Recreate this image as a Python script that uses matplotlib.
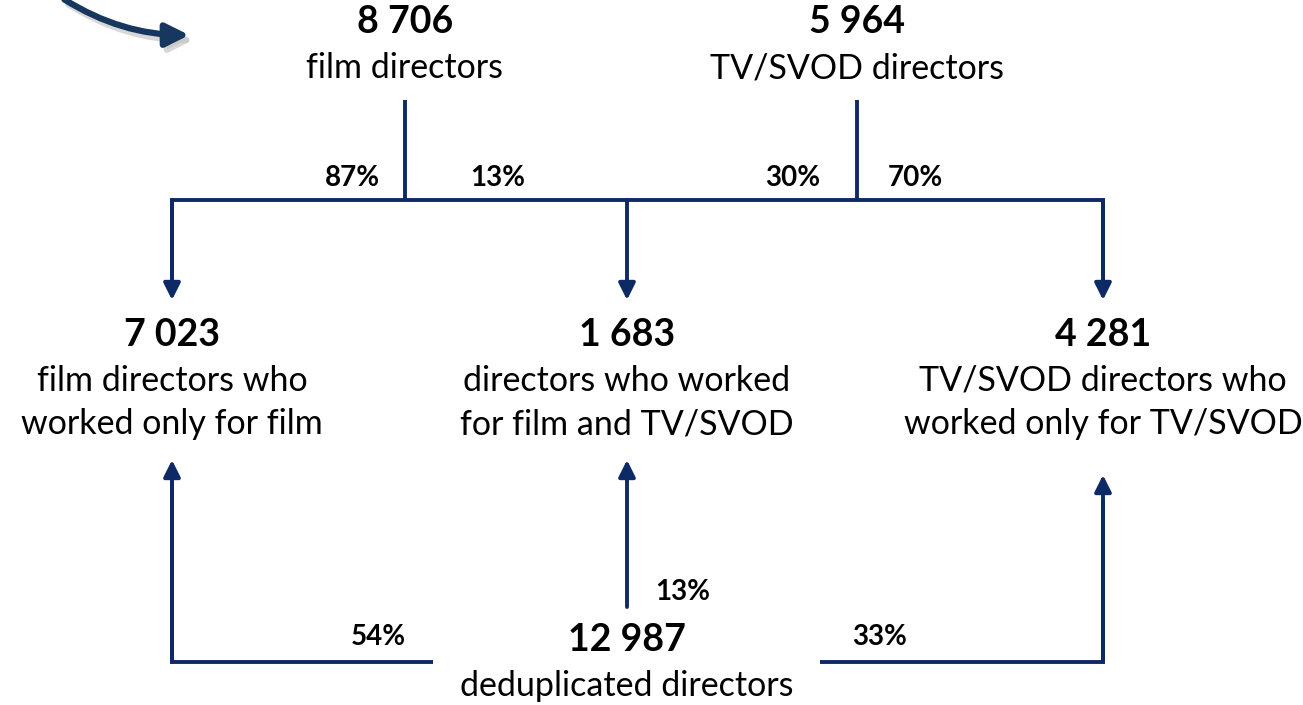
import matplotlib
matplotlib.use("Agg")
import matplotlib.pyplot as plt
from matplotlib.patches import FancyArrowPatch

# ---- data ----
top_counts = ["8 706", "5 964"]
top_labels = ["film directors", "TV/SVOD directors"]
mid_counts = ["7 023", "1 683", "4 281"]
mid_labels = [["film directors who", "worked only for film"],
              ["directors who worked", "for film and TV/SVOD"],
              ["TV/SVOD directors who", "worked only for TV/SVOD"]]
bottom_count = "12 987"
bottom_label = "deduplicated directors"
film_split = ["87%", "13%"]
tv_split = ["30%", "70%"]
dedup_split = ["54%", "13%", "33%"]

# ---- layout ----
W, H = 1303, 705
C = "#0e2a66"
FONT = ["Lato", "DejaVu Sans"]
plt.rcParams["font.family"] = FONT

fig = plt.figure(figsize=(W / 100, H / 100), dpi=100)
ax = fig.add_axes([0, 0, 1, 1])
ax.set_xlim(0, W)
ax.set_ylim(H, 0)
ax.axis("off")

lw = 2.8
top_x = [405, 857]
mid_x = [172, 627, 1103]
bar_y = 200


def line(xs, ys):
    ax.plot(xs, ys, color=C, lw=lw, solid_capstyle="butt", solid_joinstyle="miter")


def arrow(x, y0, y1):
    ax.annotate("", xy=(x, y1), xytext=(x, y0),
                arrowprops=dict(arrowstyle="-|>,head_length=1.0,head_width=0.5",
                                color=C, lw=lw, shrinkA=0, shrinkB=0))


NUM_FS = 27
LAB_FS = 24.5
PCT_FS = 20

# top nodes
for x, n, lab in zip(top_x, top_counts, top_labels):
    ax.text(x, 22, n, ha="center", va="center", fontsize=NUM_FS, fontweight="bold")
    ax.text(x, 68, lab, ha="center", va="center", fontsize=LAB_FS)
    line([x, x], [100, bar_y])

line([mid_x[0], mid_x[0], mid_x[2], mid_x[2]], [300 - 20, bar_y, bar_y, 300 - 20])
for x in mid_x:
    arrow(x, bar_y, 300)

ax.text(380, 178, film_split[0], ha="right", va="center", fontsize=PCT_FS, fontweight="bold")
ax.text(470, 178, film_split[1], ha="left", va="center", fontsize=PCT_FS, fontweight="bold")
ax.text(820, 178, tv_split[0], ha="right", va="center", fontsize=PCT_FS, fontweight="bold")
ax.text(888, 178, tv_split[1], ha="left", va="center", fontsize=PCT_FS, fontweight="bold")

# middle nodes
for x, n, lab in zip(mid_x, mid_counts, mid_labels):
    ax.text(x, 335, n, ha="center", va="center", fontsize=NUM_FS, fontweight="bold")
    ax.text(x, 381, lab[0], ha="center", va="center", fontsize=LAB_FS)
    ax.text(x, 424, lab[1], ha="center", va="center", fontsize=LAB_FS)

# bottom node
ax.text(627, 640, bottom_count, ha="center", va="center", fontsize=NUM_FS, fontweight="bold")
ax.text(627, 686, bottom_label, ha="center", va="center", fontsize=LAB_FS)

line([433, mid_x[0], mid_x[0]], [662, 662, 480])
arrow(mid_x[0], 662, 460)
arrow(mid_x[1], 607, 460)
line([820, mid_x[2], mid_x[2]], [662, 662, 500])
arrow(mid_x[2], 662, 475)

ax.text(378, 637, dedup_split[0], ha="center", va="center", fontsize=PCT_FS, fontweight="bold")
ax.text(655, 592, dedup_split[1], ha="left", va="center", fontsize=PCT_FS, fontweight="bold")
ax.text(880, 637, dedup_split[2], ha="center", va="center", fontsize=PCT_FS, fontweight="bold")

# curved decorative arrow top-left
style = "-|>,head_length=14,head_width=7"
ax.add_patch(FancyArrowPatch((66, 3), (196, 40), connectionstyle="arc3,rad=0.15",
                             arrowstyle=style, color="#c8c8c8", lw=4.5, alpha=0.7,
                             mutation_scale=1))
ax.add_patch(FancyArrowPatch((62, -2), (192, 35), connectionstyle="arc3,rad=0.15",
                             arrowstyle=style, color="#17375e", lw=4.5,
                             mutation_scale=1))

fig.savefig("out.png", dpi=100)
